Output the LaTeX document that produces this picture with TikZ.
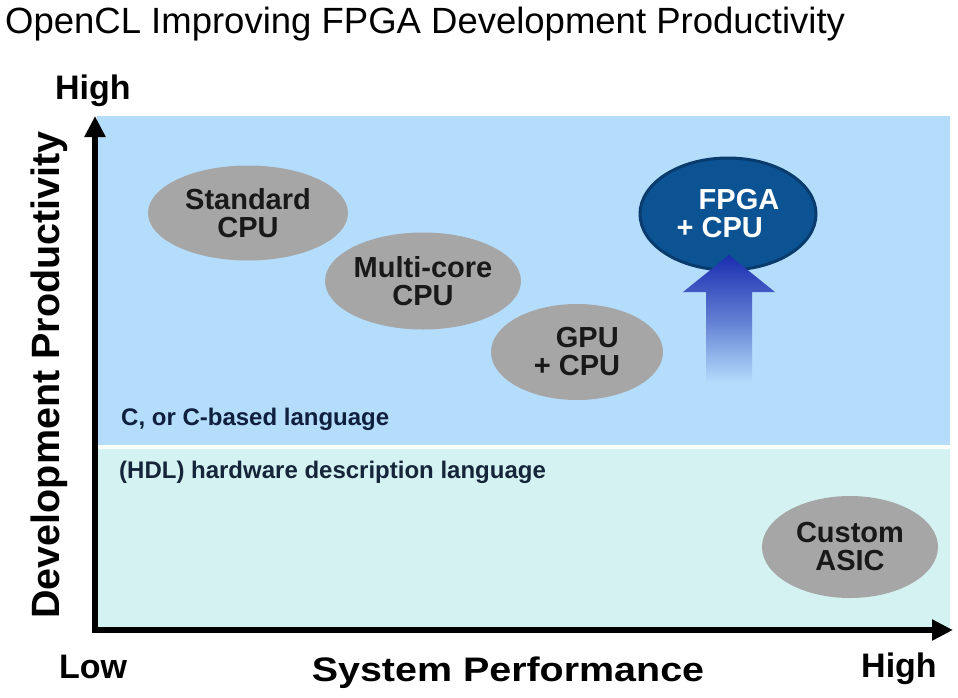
\documentclass[tikz,border=0pt]{standalone}
\usepackage{fontspec}
\setmainfont{Liberation Sans}
\usetikzlibrary{shapes.geometric,arrows.meta}
\definecolor{bgblue}{HTML}{B4DCFB}
\definecolor{bgcyan}{HTML}{D4F2F2}
\definecolor{ovalgray}{HTML}{A6A6A6}
\definecolor{fpgablue}{HTML}{0B5393}
\definecolor{fpgarim}{HTML}{093C6C}
\definecolor{arrowblue}{HTML}{1A2DB0}
\definecolor{navytext}{HTML}{0F1F3D}
\definecolor{hdltext}{HTML}{16263A}
\tikzset{
  oval/.style={ellipse, fill=ovalgray, inner sep=0pt, align=center,
    font=\fontsize{29}{28}\selectfont\bfseries, text=black!90},
  axislabel/.style={inner sep=0pt, font=\fontsize{34}{34}\selectfont\bfseries},
  langlabel/.style={inner sep=0pt, anchor=base west, font=\fontsize{24}{24}\selectfont\bfseries},
}
\begin{document}
\begin{tikzpicture}[x=1pt,y=-1pt]
\useasboundingbox[fill=white] (0,0) rectangle (958,697);
% regions
\fill[bgblue] (97,116) rectangle (950,445);
\fill[bgcyan] (97,449) rectangle (950,630);
% title
\node[inner sep=0pt, anchor=base west, font=\fontsize{36.5}{36}\selectfont] (title) at (5,33) {OpenCL Improving FPGA Development Productivity};
% axes
\coordinate (ytop) at (95,116);
\coordinate (orig) at (95,630);
\coordinate (xend) at (953,630);
\draw[line width=6pt, line join=miter, {Triangle[length=21pt,width=20pt]}-{Triangle[length=21pt,width=20pt]}] (ytop) -- (orig) -- (xend);
% axis labels
\node[axislabel, anchor=base west] (yhigh) at (55,99) {High};
\node[axislabel, anchor=base west] (xlow) at (59,678) {Low};
\node[axislabel, anchor=base west] (xhigh) at (861,677) {High};
\node[inner sep=0pt, anchor=base, font=\fontsize{34}{34}\selectfont\bfseries] (xtitle) at (508,681) {\scalebox{1.16}[1]{System Performance}};
\node[inner sep=0pt, anchor=base, rotate=90, font=\fontsize{39.5}{38}\selectfont\bfseries] (ytitle) at (59,375) {Development Productivity};
% language labels
\node[langlabel, text=navytext] (clang) at (121,425) {C, or C-based language};
\node[langlabel, text=hdltext] (hdl) at (119,478) {(HDL) hardware description language};
% ovals
\node[oval, minimum width=200pt, minimum height=95pt] (std) at (248,213) {Standard\\CPU};
\node[oval, minimum width=186pt, minimum height=97pt] (multi) at (423,281) {Multi-core\\CPU};
\node[oval, minimum width=172pt, minimum height=96pt, align=left] (gpu) at (577,352) {\hspace*{22pt}GPU\\+ CPU};
\node[oval, minimum width=176pt, minimum height=102pt] (asic) at (850,547) {Custom\\ASIC};
\node[oval, fill=fpgablue, draw=fpgarim, line width=3pt, text=white, minimum width=176pt, minimum height=112pt, align=left] (fpga) at (728,214) {\hspace*{22pt}FPGA\\+ CPU};
% improvement arrow
\coordinate (atip) at (729,255);
\shade[top color=arrowblue, bottom color=bgblue, middle color=arrowblue!55!bgblue]
  (atip) -- (775,292) -- (752,292) -- (752,382) -- (706,382) -- (706,292) -- (683,292) -- cycle;
\end{tikzpicture}
\end{document}
